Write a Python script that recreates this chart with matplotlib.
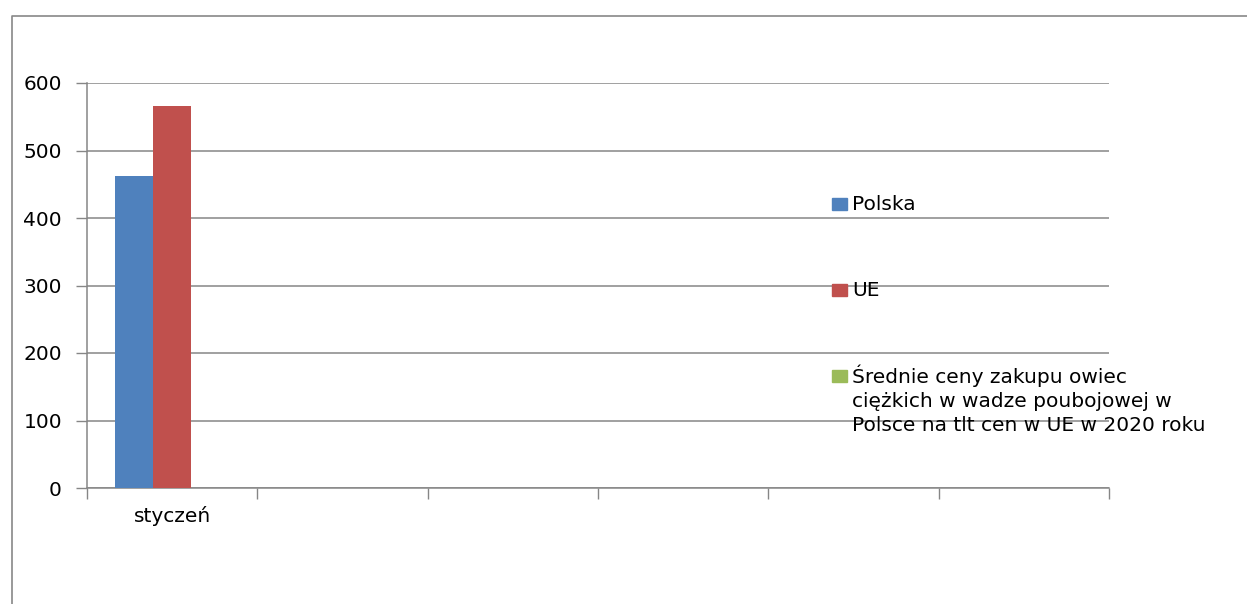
import matplotlib
matplotlib.use("Agg")
import matplotlib.pyplot as plt
from matplotlib.patches import Rectangle
from matplotlib.lines import Line2D
import numpy as np

plt.rcParams['font.family'] = ['DejaVu Sans']

categories = ["styczeń", "", "", "", "", ""]
polska = [462, np.nan, np.nan, np.nan, np.nan, np.nan]
ue = [566, np.nan, np.nan, np.nan, np.nan, np.nan]
srednie = [0, np.nan, np.nan, np.nan, np.nan, np.nan]
series_names = ["Polska", "UE",
                "Średnie ceny zakupu owiec\nciężkich w wadze poubojowej w\nPolsce na tlt cen w UE w 2020 roku"]
colors = ["#4F81BD", "#C0504D", "#9BBB59"]
yticks = [0, 100, 200, 300, 400, 500, 600]

FS = 14.5
W, H = 1247, 604
fig = plt.figure(figsize=(W / 100, H / 100), dpi=100)
ax = fig.add_axes([87 / W, 1 - 488 / H, (1109 - 87) / W, (488 - 83) / H])

x = np.arange(len(categories)) + 0.5
bw = 0.223
allseries = [polska, ue, srednie]
for i, (vals, c) in enumerate(zip(allseries, colors)):
    ax.bar(x + (i - 1) * bw, vals, width=bw, color=c, zorder=3)

ax.set_xlim(0, len(categories))
ax.set_ylim(0, 600)
ax.set_yticks(yticks)
ax.set_yticklabels([str(v) for v in yticks], fontsize=FS)
ax.set_xticks(np.arange(len(categories) + 1))
ax.set_xticklabels([])
ax.set_xticks(x, minor=True)
ax.set_xticklabels(categories, minor=True, fontsize=FS)
ax.tick_params(axis='x', which='minor', length=0, pad=13)
ax.tick_params(axis='x', which='major', length=8, color='#868686', width=1)
ax.tick_params(axis='y', length=8, color='#868686', width=1, pad=10)
ax.yaxis.grid(True, color='#868686', linewidth=1.1, zorder=0)
ax.set_axisbelow(True)
for s in ['top', 'right']:
    ax.spines[s].set_visible(False)
for s in ['left', 'bottom']:
    ax.spines[s].set_color('#868686')
    ax.spines[s].set_linewidth(1.1)

# legend (manual); text baseline given for the last line of each label
sq_centers = [204, 290, 376]
last_baselines = [210, 296, 431]
for name, c, yc, yb in zip(series_names, colors, sq_centers, last_baselines):
    fig.add_artist(Rectangle((832 / W, 1 - (yc + 6) / H), 15 / W, 12 / H,
                             transform=fig.transFigure, color=c))
    fig.text(852 / W, 1 - yb / H, name, fontsize=FS, va='baseline', ha='left',
             linespacing=1.33)

# outer frame
fig.add_artist(Line2D([12 / W, 12 / W, 1.0], [0, 1 - 16 / H, 1 - 16 / H],
                      transform=fig.transFigure, color='#888888', linewidth=1.2))

fig.savefig("out.png", dpi=100)
